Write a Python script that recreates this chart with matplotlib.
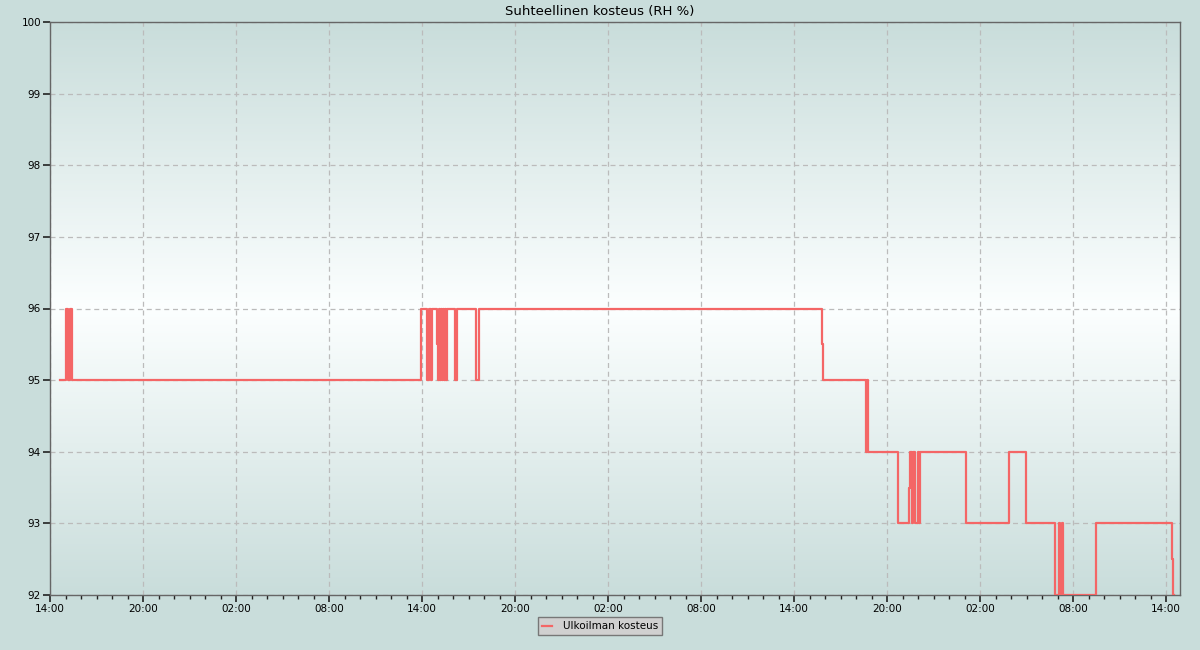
import numpy as np
import matplotlib
matplotlib.use("Agg")
import matplotlib.pyplot as plt
import matplotlib.dates as mdates
from matplotlib.colors import LinearSegmentedColormap
from datetime import datetime, timedelta

# Measurement change points: hours since the 14:00 start, and RH value from that point on
hours = [0.65, 1.03, 1.16, 1.26, 1.42,
         23.94, 24.32, 24.45, 24.60, 24.66, 24.97, 25.03, 25.10, 25.17, 25.25, 25.30,
         25.38, 25.43, 25.50, 25.56, 25.62,
         26.13, 26.26, 27.48, 27.68,
         49.81, 49.87, 52.65, 52.70, 52.77,
         54.71, 55.42, 55.48, 55.58, 55.68, 55.81, 56.00, 56.06, 56.11,
         59.10, 61.87, 62.95, 64.84, 65.12, 65.19, 65.26, 65.35,
         67.48, 72.37, 72.45, 72.52]
rh = [95, 96, 95, 96, 95,
      96, 95, 96, 95, 96, 95.5, 95, 96, 95, 96, 95,
      96, 95, 96, 95, 96,
      95, 96, 95, 96,
      95.5, 95, 94, 95, 94,
      93, 93.5, 94, 93, 94, 93, 94, 93, 94,
      93, 94, 93, 92, 93, 92, 93, 92,
      93, 92.5, 92, 92]

start = datetime(2013, 11, 12, 14, 0)
x_end_hours = 72.9

times = [start + timedelta(hours=h) for h in hours]

fig = plt.figure(figsize=(12, 6.5), dpi=100, facecolor="#c9dddb")
ax = fig.add_axes([50 / 1200, 55 / 650, 1130 / 1200, 573 / 650])

# vertical background gradient: teal at edges, white in the middle
cmap = LinearSegmentedColormap.from_list(
    "bg", [(0.0, "#c9dddb"), (0.50, "#fcffff"), (1.0, "#c9dddb")])
grad = np.linspace(0, 1, 256).reshape(-1, 1)
ax.imshow(grad, extent=[0, 1, 0, 1], transform=ax.transAxes, aspect="auto",
          cmap=cmap, origin="upper", zorder=0)

ax.step(times, rh, where="post", color="#f46666", lw=1.6,
        label="Ulkoilman kosteus", zorder=3)

ax.set_xlim(start, start + timedelta(hours=x_end_hours))
ax.set_ylim(92, 100)
ax.set_yticks(range(92, 101))

ax.xaxis.set_major_locator(mdates.HourLocator(byhour=[2, 8, 14, 20]))
ax.xaxis.set_minor_locator(mdates.HourLocator())
ax.xaxis.set_major_formatter(mdates.DateFormatter("%H:%M"))

ax.grid(True, which="major", color="#bbbbbb", ls=(0, (4, 3)), lw=0.9, zorder=1)
ax.tick_params(axis="both", which="major", direction="out", length=5,
               width=1.2, labelsize=7.5, color="#222222", pad=1.5)
ax.tick_params(axis="x", which="minor", direction="out", length=3,
               width=1, color="#222222")
for s in ax.spines.values():
    s.set_color("#666666")
    s.set_linewidth(1)

fig.text(0.5, 1 - 11 / 650, "Suhteellinen kosteus (RH %)", fontsize=9.5,
         ha="center", va="center")

fig.legend(loc="upper center", bbox_to_anchor=(0.5, 1 - 615 / 650),
           fontsize=7.5, fancybox=False, framealpha=1, facecolor="#d0d0d0",
           edgecolor="#777777", handlelength=1.0, borderpad=0.4,
           borderaxespad=0.2, handletextpad=1.0)

fig.savefig("out.png", dpi=100, facecolor=fig.get_facecolor())
